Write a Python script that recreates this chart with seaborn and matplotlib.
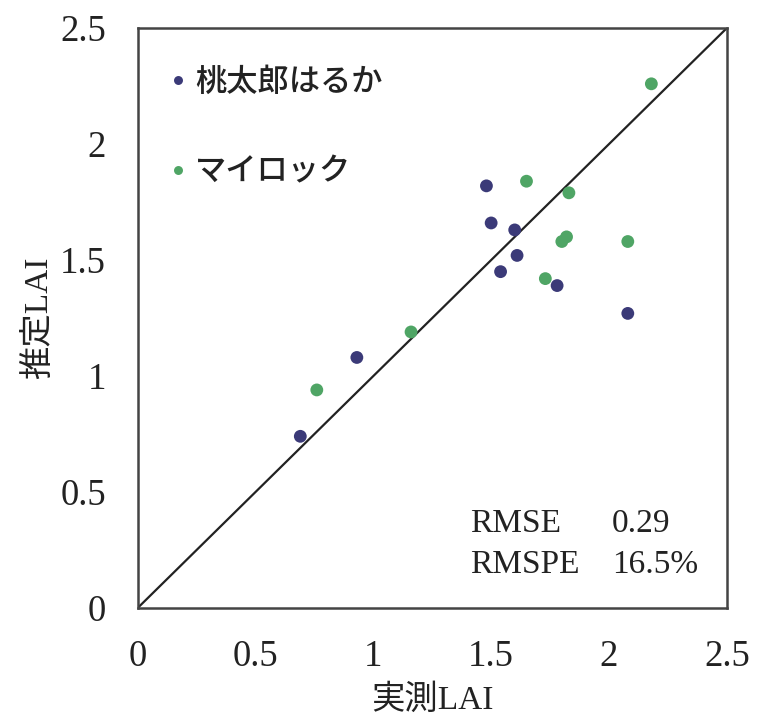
import numpy as np
import pandas as pd
import matplotlib
matplotlib.use("Agg")
import matplotlib.pyplot as plt
import seaborn as sns

# 実測LAI (measured) and 推定LAI (estimated) for each cultivar
momotaro_measured = [0.69, 0.93, 1.48, 1.50, 1.60, 1.61, 1.54, 1.78, 2.08]
momotaro_estimated = [0.74, 1.08, 1.82, 1.66, 1.63, 1.52, 1.45, 1.39, 1.27]
myrock_measured = [0.76, 1.16, 1.65, 1.83, 1.80, 1.82, 2.08, 1.73, 2.18]
myrock_estimated = [0.94, 1.19, 1.84, 1.79, 1.58, 1.60, 1.58, 1.42, 2.26]

cultivars = ["桃太郎はるか", "マイロック"]
colors = ["#3b3a78", "#4fa565"]
ticks = [0, 0.5, 1, 1.5, 2, 2.5]
tick_labels = ["0", "0.5", "1", "1.5", "2", "2.5"]
stat_names = ["RMSE", "RMSPE"]
stat_values = ["0.29", "16.5%"]

df = pd.DataFrame({
    "measured": momotaro_measured + myrock_measured,
    "estimated": momotaro_estimated + myrock_estimated,
    "cultivar": [cultivars[0]] * len(momotaro_measured) + [cultivars[1]] * len(myrock_measured),
})

sns.set_style("white")
serif_cjk = ["Liberation Serif", "Noto Sans CJK JP"]
plt.rcParams["font.family"] = serif_cjk

fig = plt.figure(figsize=(7.61, 7.22), dpi=100)
ax = fig.add_axes([0.181, 0.158, 0.774, 0.803])

# 1:1 line
ax.plot([0, 2.5], [0, 2.5], color="#222222", lw=1.6, zorder=1)

sns.scatterplot(data=df, x="measured", y="estimated", hue="cultivar",
                hue_order=cultivars, palette=colors, s=85, edgecolor="none",
                ax=ax, zorder=3)

ax.set_xlim(0, 2.5)
ax.set_ylim(0, 2.5)
ax.set_xticks(ticks)
ax.set_yticks(ticks)
ax.set_xticklabels(tick_labels)
ax.set_yticklabels(tick_labels)
ax.tick_params(direction="in", length=7, width=1.2, labelsize=26.5,
               colors="#333333", labelcolor="#222222", pad=23)
for sp in ax.spines.values():
    sp.set_color("#444444")
    sp.set_linewidth(1.8)

ax.set_xlabel("実測LAI", fontsize=24, family=serif_cjk, labelpad=7, color="#222222")
ax.set_ylabel("推定LAI", fontsize=24, family=serif_cjk, labelpad=4, color="#222222")

leg = ax.legend(loc="upper left", bbox_to_anchor=(0.058, 0.935), frameon=False,
                borderpad=0, borderaxespad=0, handlelength=0.4,
                handletextpad=0.35, labelspacing=1.85, markerscale=0.7,
                prop={"family": "Noto Sans CJK JP", "size": 22.5, "weight": "medium"})
for t in leg.get_texts():
    t.set_color("#222222")

for i, (name, val) in enumerate(zip(stat_names, stat_values)):
    yb = 0.131 - 0.071 * i
    ax.text(0.564, yb, name, transform=ax.transAxes, fontsize=24,
            family="Liberation Serif", color="#222222", va="baseline")
    ax.text(0.805, yb, val, transform=ax.transAxes, fontsize=24,
            family="Liberation Serif", color="#222222", va="baseline")

fig.savefig("out.png", dpi=100)
